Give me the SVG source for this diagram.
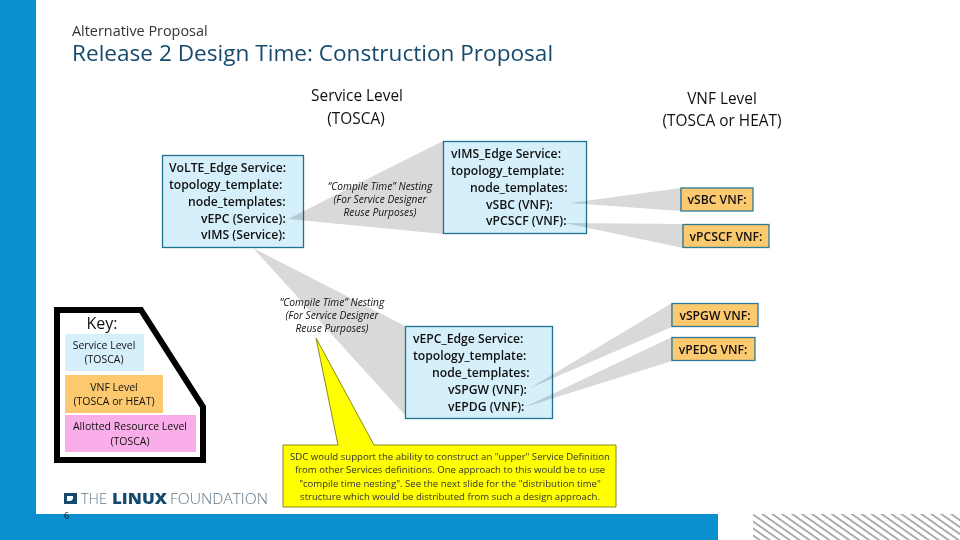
<svg xmlns="http://www.w3.org/2000/svg" width="960" height="540" viewBox="0 0 960 540">
<style>
text{font-family:"Open Sans","Noto Sans","Liberation Sans",sans-serif;fill:#111}
.b{font-weight:600;font-size:12.2px}
.sb{fill:#d5effb;stroke:#1f7391;stroke-width:1.3}
.vb{fill:#fcc96f;stroke:#2b7a96;stroke-width:1.3}
.g{fill:#d9d9d9;mix-blend-mode:multiply}
.i{font-style:italic;font-size:10.2px}
.m{text-anchor:middle}
.k{font-size:10.5px;text-anchor:middle}
.h{font-size:15.4px;text-anchor:middle}
.y{font-size:9.6px;text-anchor:middle;fill:#333}
</style>
<defs>
<pattern id="hatch" width="10" height="5.7" patternUnits="userSpaceOnUse" patternTransform="rotate(35)">
<rect width="10" height="1.8" fill="#a6a6a6"/>
</pattern>
</defs>
<rect width="960" height="540" fill="#fff"/>
<rect x="0" y="0" width="36" height="540" fill="#0a8fcf"/>
<rect x="0" y="514" width="718" height="26" fill="#0a8fcf"/>
<rect x="753" y="514" width="207" height="26" fill="url(#hatch)"/>
<text x="72" y="36" font-size="14.400" style="fill:#333">Alternative Proposal</text>
<text x="72" y="61" font-size="22.600" style="fill:#154a6e">Release 2 Design Time: Construction Proposal</text>
<text class="h" x="357" y="101">Service Level</text>
<text class="h" x="356" y="124">(TOSCA)</text>
<text class="h" x="722" y="104">VNF Level</text>
<text class="h" x="722" y="126">(TOSCA or HEAT)</text>
<g id="volte">
<rect class="sb" x="162.500" y="155.500" width="141" height="92"/>
<text class="b" x="169" y="172">VoLTE_Edge Service:</text>
<text class="b" x="169" y="189">topology_template:</text>
<text class="b" x="188" y="206">node_templates:</text>
<text class="b" x="201" y="223">vEPC (Service):</text>
<text class="b" x="201" y="239">vIMS (Service):</text>
</g>
<g id="vims">
<rect class="sb" x="443.500" y="141.500" width="143" height="92"/>
<text class="b" x="451" y="158">vIMS_Edge Service:</text>
<text class="b" x="451" y="175">topology_template:</text>
<text class="b" x="470" y="192">node_templates:</text>
<text class="b" x="486" y="209">vSBC (VNF):</text>
<text class="b" x="486" y="225">vPCSCF (VNF):</text>
</g>
<g id="vepc">
<rect class="sb" x="405.500" y="326.500" width="147" height="92"/>
<text class="b" x="413" y="343">vEPC_Edge Service:</text>
<text class="b" x="413" y="360">topology_template:</text>
<text class="b" x="432" y="377">node_templates:</text>
<text class="b" x="448" y="394">vSPGW (VNF):</text>
<text class="b" x="448" y="411">vEPDG (VNF):</text>
</g>
<g id="vsbc"><rect class="vb" x="681" y="188" width="72" height="23"/><text class="b m" x="717" y="204">vSBC VNF:</text></g>
<g id="vpcscf"><rect class="vb" x="683" y="224.500" width="86" height="23"/><text class="b m" x="726" y="241">vPCSCF VNF:</text></g>
<g id="vspgw"><rect class="vb" x="672" y="303.500" width="86" height="23"/><text class="b m" x="715" y="320">vSPGW VNF:</text></g>
<g id="vpedg"><rect class="vb" x="672" y="337.500" width="83" height="23"/><text class="b m" x="713" y="354">vPEDG VNF:</text></g>
<g id="connectors">
<polygon class="g" points="288,219 443,141 443,234"/>
<polygon class="g" points="253,248 405,326 405,415"/>
<polygon class="g" points="570,203 681,188 681,211"/>
<polygon class="g" points="565,223 683,224 683,248"/>
<polygon class="g" points="530,388 672,303 672,327"/>
<polygon class="g" points="525,407 672,337 672,361"/>
</g>
<text class="i m" x="380" y="190">“Compile Time” Nesting</text>
<text class="i m" x="380" y="203">(For Service Designer</text>
<text class="i m" x="380" y="216">Reuse Purposes)</text>
<text class="i m" x="332" y="306">“Compile Time” Nesting</text>
<text class="i m" x="332" y="319">(For Service Designer</text>
<text class="i m" x="332" y="332">Reuse Purposes)</text>
<g id="callout">
<polygon points="316,338 374,445 616,445 616,507 283,507 283,445 338,445" fill="#ffff00" stroke="#8a8a1e" stroke-width="1"/>
<text class="y" x="450" y="460">SDC would support the ability to construct an "upper" Service Definition</text>
<text class="y" x="450" y="473">from other Services definitions.  One approach to this would be to use</text>
<text class="y" x="450" y="487">"compile time nesting".  See the next slide for the "distribution time"</text>
<text class="y" x="450" y="500">structure which would be distributed from such a design approach.</text>
</g>
<g id="key">
<polygon points="57,310 141,310 203,407 203,460 57,460" fill="#fff" stroke="#000" stroke-width="6"/>
<text x="102" y="329" font-size="16" class="m">Key:</text>
<rect x="65" y="334" width="79" height="37" fill="#d5effb"/>
<text class="k" x="104" y="349">Service Level</text>
<text class="k" x="104" y="363">(TOSCA)</text>
<rect x="65" y="375" width="98" height="38" fill="#fcc96f"/>
<text class="k" x="114" y="391">VNF Level</text>
<text class="k" x="114" y="405">(TOSCA or HEAT)</text>
<rect x="65" y="415" width="131" height="37" fill="#f9aee9"/>
<text class="k" x="130" y="430">Allotted Resource Level</text>
<text class="k" x="130" y="445">(TOSCA)</text>
</g>
<g id="logo">
<path d="M64 493h13v11h-13zM67 496v5h4l2-2v-3z" fill="#154a6e" fill-rule="evenodd"/>
<text x="81" y="504" font-size="15" font-weight="300" textLength="26" lengthAdjust="spacingAndGlyphs" style="fill:#5f7484">THE</text>
<text x="112" y="504" font-size="15.500" font-weight="800" textLength="55" lengthAdjust="spacingAndGlyphs" style="fill:#154a6e">LINUX</text>
<text x="170" y="504" font-size="15" font-weight="300" textLength="98" lengthAdjust="spacingAndGlyphs" style="fill:#5f7484">FOUNDATION</text>
</g>
<text x="64" y="519" font-size="9">6</text>
</svg>
